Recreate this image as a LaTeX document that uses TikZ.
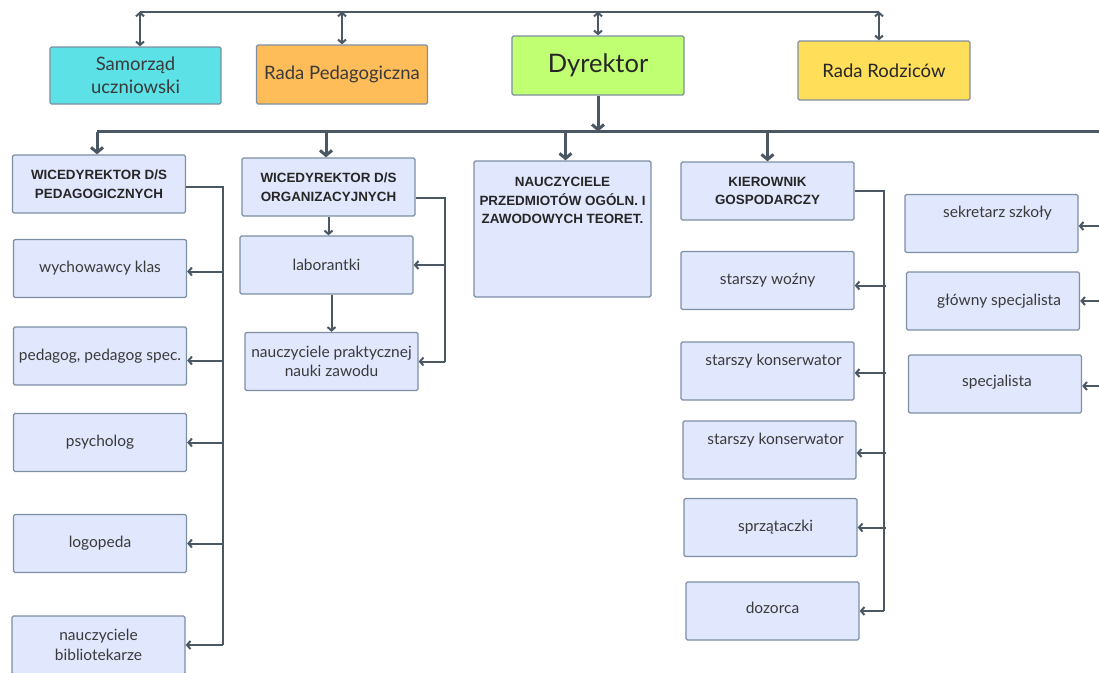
\documentclass[tikz,border=0pt]{standalone}
\usepackage{fontspec}
\setmainfont{Lato}
\newfontfamily\capsfont{Liberation Sans}
\usetikzlibrary{arrows.meta}
\definecolor{boxfill}{HTML}{E1E7FD}
\definecolor{boxline}{HTML}{7D8FA3}
\definecolor{linec}{HTML}{4B5763}
\definecolor{txt}{HTML}{3A3A3A}
\definecolor{captxt}{HTML}{262626}
\definecolor{cyanbox}{HTML}{5CE1E6}
\definecolor{orangebox}{HTML}{FFBD59}
\definecolor{greenbox}{HTML}{C1FF72}
\definecolor{yellowbox}{HTML}{FFDE59}
\begin{document}
\begin{tikzpicture}[x=1pt,y=-1pt,
  box/.style={draw=boxline, fill=boxfill, line width=1.3pt, rounded corners=1.5pt,
    minimum width=173pt, minimum height=58pt, inner sep=0pt, align=center,
    text=txt, font=\fontsize{15.5}{19.5}\selectfont},
  capbox/.style={box, text=captxt, font=\capsfont\bfseries\fontsize{13.4}{18.5}\selectfont},
  topbox/.style={box, minimum width=171pt, font=\fontsize{18.5}{23}\selectfont},
  upper/.style={text height=10pt, text depth=22pt},
  conn/.style={draw=linec, line width=2pt},
  heavy/.style={draw=linec, line width=3pt},
  arr/.style={conn, -{Straight Barb[length=3.5pt,width=8pt]}},
  dblarr/.style={conn, {Straight Barb[length=3.5pt,width=8pt]}-{Straight Barb[length=3.5pt,width=8pt]}},
  heavyarr/.style={heavy, -{Straight Barb[length=5pt,width=12pt]}}
]
\useasboundingbox (0,0) rectangle (1099,672);

% top row
\node[topbox, fill=cyanbox, minimum height=57pt] (sam) at (135.5,75.5) {Samorząd\\uczniowski};
\node[topbox, fill=orangebox, minimum height=59pt] (rp) at (342,74.5) {Rada Pedagogiczna};
\node[topbox, fill=greenbox, minimum width=172pt, minimum height=59pt, text=captxt,
      font=\fontsize{25.5}{28}\selectfont] (dyr) at (598,65.5) {Dyrektor};
\node[topbox, fill=yellowbox, minimum width=172pt, minimum height=59pt, text=captxt] (rr) at (884,70.5) {Rada Rodziców};

\coordinate (topbus) at (0,11.5);
\coordinate (bus) at (0,131.5);
\coordinate (bend) at (1115,131.5);
\coordinate (samN) at ([xshift=4.5pt]sam.north);
\coordinate (rrN) at ([xshift=-5pt]rr.north);

\draw[conn] (samN |- topbus) -- (rrN |- topbus);
\draw[dblarr] (samN |- topbus) -- (samN);
\draw[dblarr] (rp.north |- topbus) -- (rp.north);
\draw[dblarr] (dyr.north |- topbus) -- (dyr.north);
\draw[dblarr] (rrN |- topbus) -- (rrN);

% second level
\node[capbox] (ped) at (99,184) {WICEDYREKTOR D/S\\PEDAGOGICZNYCH};
\node[capbox] (org) at (328.5,187) {WICEDYREKTOR D/S\\ORGANIZACYJNYCH};
\node[capbox, minimum width=177pt, minimum height=136pt] (nau) at (562.5,229)
  {\parbox[c][110pt][t]{174pt}{\centering\strut NAUCZYCIELE\\PRZEDMIOTÓW OGÓLN. I\\ZAWODOWYCH TEORET.}};
\node[capbox] (kier) at (767.5,191) {KIEROWNIK\\GOSPODARCZY};

\coordinate (pedN) at ([xshift=-2pt]ped.north);
\coordinate (orgN) at ([xshift=-2.5pt]org.north);
\coordinate (nauN) at ([xshift=3pt]nau.north);

\draw[heavyarr] (dyr.south) -- (dyr.south |- bus);
\draw[heavy] (pedN |- bus) -- (bend);
\draw[heavyarr] (pedN |- bus) -- (pedN);
\draw[heavyarr] (orgN |- bus) -- (orgN);
\draw[heavyarr] (nauN |- bus) -- (nauN);
\draw[heavyarr] (kier.north |- bus) -- (kier.north);

% left column
\node[box] (wych) at (100,268.5) {wychowawcy klas};
\node[box] (pedg) at (100,356) {pedagog, pedagog spec.};
\node[box] (psy) at (100,442.5) {psycholog};
\node[box] (logo) at (100,543.5) {logopeda};
\node[box] (bib) at (98.5,645) {nauczyciele\\bibliotekarze};

\coordinate (pedx) at (222.5,0);
\coordinate (pedE) at ([yshift=-3pt]ped.east);
\coordinate (wychE) at ([yshift=-3pt]wych.east);
\coordinate (pedgE) at ([yshift=-4.5pt]pedg.east);
\draw[conn] (pedE) -- (pedx |- pedE) -- (pedx |- bib.east);
\draw[arr] (pedx |- wychE) -- (wychE);
\draw[arr] (pedx |- pedgE) -- (pedgE);
\draw[arr] (pedx |- psy.east) -- (psy.east);
\draw[arr] (pedx |- logo.east) -- (logo.east);
\draw[arr] (pedx |- bib.east) -- (bib.east);

% middle column
\node[box] (lab) at (326.5,265) {laborantki};
\node[box] (prak) at (331.5,361.5) {nauczyciele praktycznej\\nauki zawodu};

\coordinate (orgx) at (445,0);
\coordinate (orgE) at ([yshift=-11pt]org.east);
\draw[conn] (orgE) -- (orgx |- orgE) -- (orgx |- prak.east);
\draw[arr] (orgx |- lab.east) -- (lab.east);
\draw[arr] (orgx |- prak.east) -- (prak.east);
\draw[arr] (org.south) -- (org.south |- lab.north);
\draw[arr] (prak.north |- lab.south) -- (prak.north);

% kierownik column
\node[box] (wozny) at (767.5,280.5) {starszy woźny};
\node[box, upper] (kons1) at (767.5,371) {\hspace*{12pt}starszy konserwator};
\node[box, upper] (kons2) at (769.5,450) {\hspace*{12pt}starszy konserwator};
\node[box] (sprz) at (770.5,527.5) {\hspace*{10pt}sprzątaczki};
\node[box, text height=10pt, text depth=6pt] (doz) at (772.5,611) {dozorca};

\coordinate (kierx) at (884,0);
\coordinate (kierxs) at (886,0);
\coordinate (woznyE) at ([yshift=-5pt]wozny.east);
\coordinate (kons1E) at ([yshift=-2pt]kons1.east);
\coordinate (kons2E) at ([yshift=-3pt]kons2.east);
\draw[conn] (kier.east) -- (kierx |- kier.east) -- (kierx |- doz.east);
\draw[arr] (kierxs |- woznyE) -- (woznyE);
\draw[arr] (kierxs |- kons1E) -- (kons1E);
\draw[arr] (kierxs |- kons2E) -- (kons2E);
\draw[arr] (kierxs |- sprz.east) -- (sprz.east);
\draw[arr] (kierx |- doz.east) -- (doz.east);

% right column
\node[box, upper] (sek) at (991.5,223.5) {\hspace*{12pt}sekretarz szkoły};
\node[box] (glow) at (993,301) {\hspace*{12pt}główny specjalista};
\node[box, text height=10pt, text depth=6pt] (spec) at (995,384) {\hspace*{4pt}specjalista};

\coordinate (rx) at (1115,0);
\coordinate (sekE) at ([yshift=-2.5pt]sek.east);
\coordinate (specE) at ([yshift=-2pt]spec.east);
\draw[arr] (rx |- sekE) -- (sekE);
\draw[arr] (rx |- glow.east) -- (glow.east);
\draw[arr] (rx |- specE) -- (specE);
\end{tikzpicture}
\end{document}
